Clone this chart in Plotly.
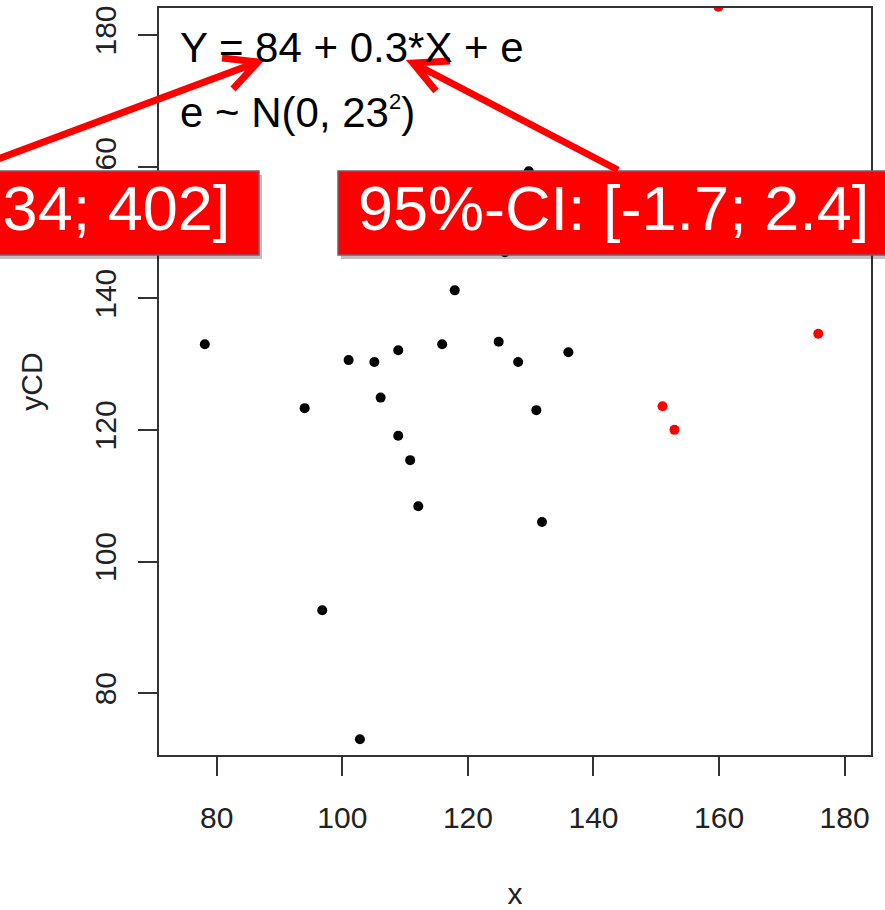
import plotly.graph_objects as go

# ---- data ----
x_black = [78.1, 94.0, 96.8, 101.0, 102.8, 105.1, 106.1, 108.9, 108.9, 110.8,
           112.1, 115.9, 117.9, 124.9, 125.9, 128.0, 129.7, 130.9, 131.8, 136.0]
y_black = [133.0, 123.3, 92.6, 130.6, 73.0, 130.3, 124.9, 132.1, 119.1, 115.4,
           108.4, 133.0, 141.2, 133.4, 147.0, 130.3, 159.3, 123.0, 106.0, 131.8]
x_red = [151.0, 152.9, 159.9, 175.8]
y_red = [123.6, 120.0, 184.3, 134.6]
x_ticks = [80, 100, 120, 140, 160, 180]
y_ticks = [80, 100, 120, 140, 160, 180]
eq_line1 = "Y = 84 + 0.3*X + e"
eq_line2 = "e ~ N(0, 23<sup><span style='font-size:22px'>2</span></sup>)"
ci_intercept = "95%-CI: [-234; 402]"
ci_slope = "95%-CI: [-1.7; 2.4]"

# ---- layout geometry (pixels) ----
W, H = 885, 910
L, R, T, B = 159, 871, 8, 755
FONT = "Liberation Sans, Arial, sans-serif"


def px(x):
    return (x - L) / (R - L)


def py(y):
    return (B - y) / (B - T)


fig = go.Figure()
fig.add_trace(go.Scatter(x=x_black, y=y_black, mode="markers",
                         marker=dict(color="black", size=10), showlegend=False))
fig.add_trace(go.Scatter(x=x_red, y=y_red, mode="markers",
                         marker=dict(color="#FF0000", size=10), showlegend=False))

axis_common = dict(showline=True, linecolor="#333333", linewidth=2, mirror=True,
                   ticks="outside", ticklen=19, tickwidth=2, tickcolor="#333333",
                   showgrid=False, zeroline=False, automargin=False,
                   tickfont=dict(family=FONT, size=30, color="#222222"))

fig.update_xaxes(range=[70.8, 184.2], tickvals=x_ticks,
                 ticktext=[str(v) for v in x_ticks], ticklabelstandoff=16,
                 title=dict(text="x", font=dict(family=FONT, size=30, color="#222222"),
                            standoff=54),
                 **axis_common)
fig.update_yaxes(range=[70.6, 184.1], tickvals=y_ticks,
                 ticktext=[str(v) for v in y_ticks], tickangle=-90,
                 ticklabelstandoff=10,
                 title=dict(text="yCD", font=dict(family=FONT, size=30, color="#222222"),
                            standoff=38),
                 **axis_common)

shapes = []
# red boxes with a soft shadow
for (x0, x1) in [(-400, 259), (338, 900)]:
    shapes.append(dict(type="rect", xref="paper", yref="paper",
                       x0=px(x0 + 3), x1=px(x1 + 3), y0=py(171 + 4), y1=py(255 + 4),
                       fillcolor="rgba(0,0,0,0.25)", line=dict(width=0), layer="above"))
    shapes.append(dict(type="rect", xref="paper", yref="paper",
                       x0=px(x0), x1=px(x1), y0=py(171), y1=py(255),
                       fillcolor="#FF0000", line=dict(color="#7B5C6E", width=1.5),
                       layer="above"))

# arrows (shaft + open head)
arrows = [
    dict(start=(-10, 162), tip=(258, 62), arm1=(222, 58), arm2=(233, 89)),
    dict(start=(618, 170), tip=(413, 63), arm1=(450, 61), arm2=(436, 91)),
]
for a in arrows:
    (sx, sy), (tx, ty) = a["start"], a["tip"]
    path = (f"M {px(sx)} {py(sy)} L {px(tx)} {py(ty)} "
            f"M {px(a['arm1'][0])} {py(a['arm1'][1])} L {px(tx)} {py(ty)} "
            f"L {px(a['arm2'][0])} {py(a['arm2'][1])}")
    shapes.append(dict(type="path", xref="paper", yref="paper", path=path,
                       line=dict(color="#FF0000", width=7), layer="above"))

annotations = [
    dict(text=eq_line1, x=px(178), y=py(62 + 0.212 * 42 + 2), xanchor="left",
         yanchor="bottom", font=dict(family=FONT, size=42, color="black")),
    dict(text=eq_line2, x=px(178), y=py(127 + 0.212 * 42 + 2), xanchor="left",
         yanchor="bottom", font=dict(family=FONT, size=42, color="black")),
    dict(text=ci_intercept, x=px(232), y=py(230 + 0.212 * 63 + 2), xanchor="right",
         yanchor="bottom", font=dict(family=FONT, size=63, color="white")),
    dict(text=ci_slope, x=px(356), y=py(230 + 0.212 * 63 + 2), xanchor="left",
         yanchor="bottom", font=dict(family=FONT, size=63, color="white")),
]
for an in annotations:
    an.update(xref="paper", yref="paper", showarrow=False)

fig.update_layout(width=W, height=H, margin=dict(l=L, r=W - R, t=T, b=H - B),
                  plot_bgcolor="white", paper_bgcolor="white",
                  shapes=shapes, annotations=annotations)

fig.write_html("out.html")
